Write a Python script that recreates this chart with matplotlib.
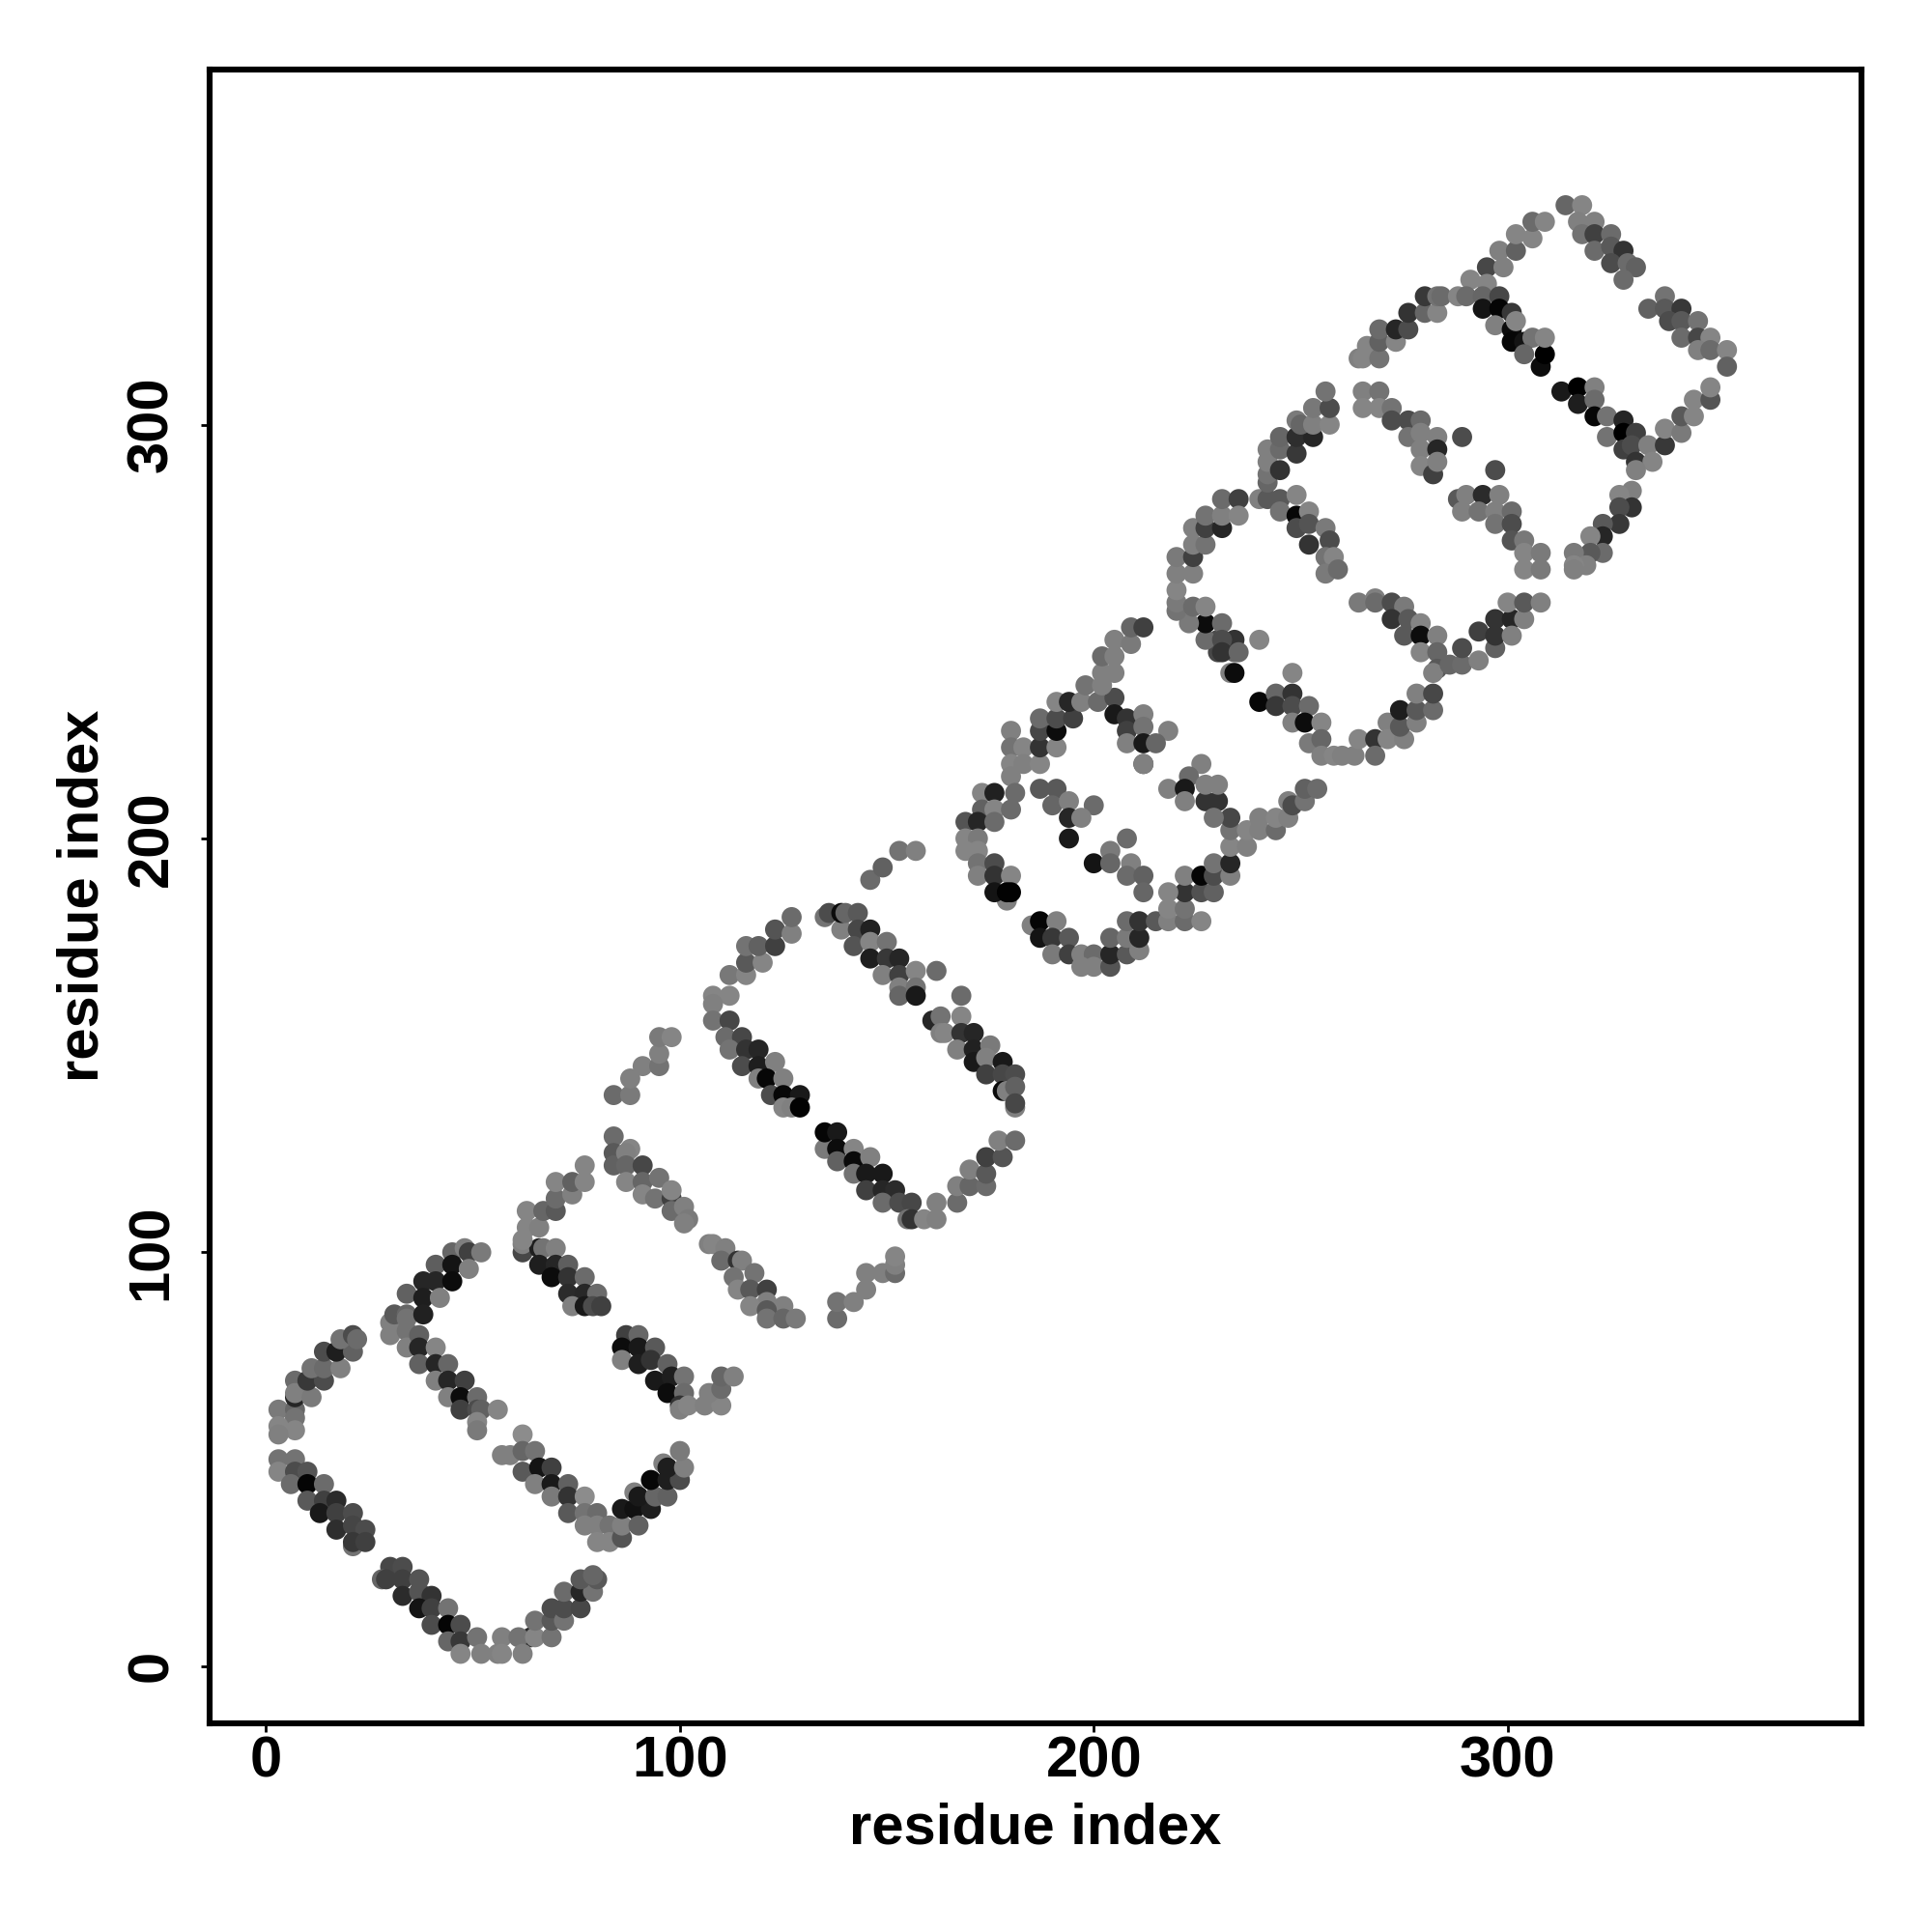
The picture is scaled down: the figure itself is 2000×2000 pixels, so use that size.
import matplotlib
matplotlib.use('Agg')
import matplotlib.pyplot as plt
import numpy as np

plt.rcParams['font.family'] = ['Liberation Sans', 'DejaVu Sans']
plt.rcParams['font.weight'] = 'bold'

# contacts: (residue i, residue j, grey level)
band_a = [(30,24,.28),(33,24,.30),(28,21,.40),(29,21,.25),(33,21,.25),(37,21,.33),(33,17,.17),(37,18,.33),
          (40,17,.2),(37,14,.08),(40,14,.25),(44,14,.45),(40,10,.3),(44,10,.02),(47,10,.3),(44,6,.4),
          (47,6,.22),(51,7,.45),(47,3,.52),(52,3,.5),(56,3,.5),(57,7,.5),(57,3,.52),(64,7,.15),(61,7,.45),
          (62,3,.5),(65,7,.52),(65,11,.45),(69,7,.45),(69,11,.35),(69,14,.3),(72,11,.45),(72,14,.3),
          (76,14,.28),(72,18,.42),(76,18,.15),(79,18,.45),(76,21,.35),(80,21,.35),(79,22,.4)]
band_b = [(3,50,.45),(3,47,.52),(7,50,.45),(7,47,.3),(6,44,.42),(10,47,.33),(10,44,.02),(14,44,.42),
          (10,40,.35),(14,40,.25),(17,40,.17),(13,37,.1),(17,37,.25),(21,37,.3),(17,33,.18),(21,34,.27),
          (24,33,.3),(21,29,.45),(21,30,.22),(24,30,.25),(3,62,.48),(7,62,.4),(7,60,.45),(3,58,.52),
          (7,57,.52),(3,56,.5)]
band_c = [(7,65,.15),(7,69,.42),(7,66,.5),(11,65,.48),(10,69,.22),(14,69,.3),(11,72,.45),(14,72,.42),
          (18,72,.5),(14,76,.3),(17,76,.12),(21,76,.38),(18,79,.45),(21,80,.3),(22,79,.42)]
band_d = [(30,80,.5),(30,83,.5),(31,85,.35),(34,90,.38),(34,85,.4),(34,84,.45),(38,93,.15),(38,89,.12),
          (38,85,.13),(41,97,.37),(41,93,.15),(42,89,.5),(45,100,.4),(45,97,.08),(45,93,.05),(48,101,.5),
          (49,100,.25),(49,96,.5),(52,100,.48)]
band_e = [(34,81,.45),(34,77,.5),(37,80,.38),(37,77,.15),(37,73,.38),(41,77,.52),(41,73,.15),(44,73,.4),
          (41,69,.5),(44,69,.15),(48,69,.25),(44,65,.5),(47,65,.05),(51,65,.42),(47,62,.25),(51,62,.3),
          (52,62,.38),(56,62,.52),(51,59,.52),(51,57,.48)]
band_f = [(62,56,.55),(57,51,.5),(59,51,.5),(62,52,.4),(62,47,.35),(65,52,.45),(66,48,.08),(69,48,.25),
          (65,44,.5),(69,44,.1),(73,44,.38),(69,41,.48),(73,41,.2),(77,41,.55),(73,37,.35),(77,37,.45),
          (80,37,.42),(77,34,.5),(80,34,.5),(83,34,.45),(80,30,.52),(83,30,.52),(86,31,.33),(86,34,.5)]
band_g = [(86,38,.1),(89,38,.07),(90,34,.38),(93,38,.12),(89,42,.5),(90,41,.1),(94,41,.4),(97,41,.38),
          (93,45,.03),(97,45,.12),(100,45,.3),(96,49,.5),(97,48,.12),(101,48,.5),(100,52,.48)]
band_h = [(62,100,.28),(62,102,.5),(66,101,.12),(67,101,.45),(70,101,.5),(66,97,.12),(70,97,.15),(73,97,.37),
          (69,94,.05),(73,94,.2),(77,94,.42),(73,90,.17),(77,90,.16),(80,90,.42),(74,87,.5),(77,87,.1),
          (79,87,.3),(81,87,.25),(63,110,.52),(63,106,.52),(66,106,.5),(62,103,.52),(67,110,.4),(70,110,.35),
          (70,113,.42),(70,117,.52),(74,114,.5),(74,117,.38),(77,117,.52),(77,121,.52)]
band_i = [(87,80,.25),(90,80,.4),(86,77,.05),(90,77,.1),(94,77,.35),(86,74,.5),(90,73,.12),(93,74,.2),
          (97,73,.38),(94,69,.1),(98,70,.12),(101,70,.45),(97,66,.05),(101,66,.42),(100,63,.2),(100,62,.5),
          (102,63,.52),(106,63,.5),(110,63,.52),(107,66,.5),(110,67,.42),(110,70,.4),(113,70,.5)]
band_k = [(84,128,.42),(84,124,.35),(84,121,.38),(88,125,.52),(87,124,.5),(87,121,.4),(87,117,.52),(91,121,.28),
          (91,117,.4),(91,114,.52),(95,118,.45),(94,113,.45),(98,113,.25),(98,115,.52),(98,110,.42),(101,111,.5),
          (102,108,.48),(101,107,.5)]
band_m = [(107,102,.5),(108,102,.52),(111,101,.5),(110,98,.42),(114,98,.2),(115,98,.5),(113,94,.45),(118,95,.45),
          (114,91,.52),(117,91,.35),(121,91,.25),(121,88,.5),(117,87,.52),(125,87,.5),(121,86,.35),(121,84,.45),
          (125,84,.4),(128,84,.48)]
band_n = [(138,84,.42),(138,88,.45),(142,88,.5),(145,91,.5),(145,95,.5),(149,95,.5),(152,95,.42),(152,97,.5),
          (152,99,.52)]
band_o = [(84,138,.42),(88,138,.48),(88,142,.5),(91,145,.5),(95,145,.45),(95,148,.5),(95,152,.48),(98,152,.52)]
band_p = [(108,162,.52),(112,162,.52),(108,160,.5),(108,156,.45),(112,156,.28),(111,152,.42),(115,152,.28),
          (112,149,.45),(116,149,.2),(119,149,.15),(115,145,.3),(119,145,.12),(123,146,.5),(119,142,.5),
          (121,142,.03),(125,142,.5),(122,138,.3),(125,138,.03),(129,138,.1),(125,135,.52),(127,135,.5),(129,135,.01)]
band_q = [(135,125,.48),(135,129,.02),(138,129,.1),(138,125,.05),(138,122,.38),(142,125,.52),(142,122,.04),
          (146,123,.5),(142,119,.45),(145,119,.1),(149,119,.1),(145,115,.25),(149,115,.15),(152,115,.17),
          (149,112,.42),(153,112,.3),(156,112,.28),(155,108,.45),(156,108,.2),(159,108,.52),(162,108,.5),
          (162,112,.5),(167,112,.42),(167,116,.5),(170,116,.4),(170,120,.5),(174,116,.42),(174,119,.35),
          (174,123,.25),(178,123,.33),(177,127,.5),(181,127,.42)]
band_t = [(112,167,.47),(116,167,.52),(116,170,.35),(120,170,.52),(116,174,.45),(119,174,.38),(123,174,.25),
          (123,178,.33),(127,177,.5),(127,181,.42),(146,190,.42),(149,193,.38),(153,197,.45),(157,197,.5)]
band_u = [(135,181,.45),(136,182,.3),(139,178,.5),(139,182,.05),(140,182,.4),(143,182,.35),(143,178,.28),
          (146,178,.13),(142,174,.33),(146,175,.52),(150,175,.45),(146,171,.12),(150,171,.22),(153,171,.15),
          (149,167,.5),(153,167,.25),(157,168,.52),(153,164,.5),(153,162,.4),(157,164,.45),(157,162,.1),(162,168,.42)]
band_v = [(168,162,.42),(161,156,.15),(163,157,.45),(163,153,.5),(168,157,.52),(164,153,.52),(168,153,.2),
          (171,153,.15),(167,149,.5),(171,149,.13),(175,150,.48),(171,146,.1),(174,147,.5),(174,143,.25),
          (178,146,.1),(178,143,.28),(181,143,.3),(178,139,.05),(179,139,.5),(181,140,.38),(181,135,.5),(181,136,.28)]
band_w = [(180,226,.5),(180,222,.45),(183,222,.52),(180,218,.52),(183,218,.5),(187,218,.52),(180,215,.5),
          (181,211,.42),(173,211,.52),(176,211,.13),(173,207,.38),(176,207,.52),(180,207,.42),(169,204,.33),
          (172,204,.15),(176,204,.42),(169,200,.52),(172,200,.48),(169,197,.52),(172,197,.52),(172,194,.45),
          (176,194,.3),(172,191,.5),(176,191,.2),(180,191,.52),(179,185,.5),(176,187,.08),(179,187,.01),(180,187,.01)]
band_x = [(187,222,.2),(191,222,.52),(187,226,.28),(191,226,.05),(187,229,.42),(191,229,.3),(195,229,.25),
          (191,233,.52),(194,233,.15),(197,233,.5),(201,233,.42),(205,234,.3),(198,237,.45),(202,237,.5),
          (202,240,.5),(205,240,.5),(202,244,.42),(205,244,.5),(205,248,.5),(209,247,.48),(209,251,.4),(212,251,.25)]
band_inner = [(187,212,.35),(191,212,.35),(190,208,.4),(194,209,.5),(200,208,.42),(194,205,.15),(197,205,.5),
              (194,200,.1),(208,200,.42),(204,197,.48),(200,194,.08),(204,194,.4),(209,194,.5),(208,191,.42),
              (212,191,.38),(212,187,.4),(205,230,.1),(208,229,.2),(212,230,.5),(208,226,.25),(212,227,.45),
              (218,226,.5),(208,223,.5),(212,223,.1),(215,223,.4),(212,218,.25),(212,218,.5)]
band_y = [(185,179,.5),(187,180,.02),(191,180,.5),(187,176,.08),(190,176,.22),(194,176,.35),(190,172,.48),
          (194,172,.25),(197,172,.5),(200,172,.42),(197,169,.5),(200,169,.5),(204,169,.33),(204,172,.15),
          (204,176,.4),(208,172,.35),(208,176,.48),(211,173,.5),(211,176,.15),(208,180,.42),(211,180,.2),
          (215,180,.35),(218,180,.5),(222,180,.42),(226,180,.52),(218,183,.52),(222,183,.45),(222,187,.2),
          (218,187,.52),(226,187,.32),(229,187,.38),(222,191,.5),(226,191,.02),(229,191,.3),(233,191,.5),
          (229,194,.45),(233,194,.15),(233,198,.52),(237,198,.5),(233,202,.45),(233,205,.28),(237,202,.52),
          (240,202,.5),(244,202,.42),(240,205,.5),(244,205,.52),(247,205,.5),(247,209,.5),(248,208,.3),
          (251,209,.45),(251,212,.38),(254,212,.42)]
band_z = [(226,218,.5),(223,215,.42),(218,212,.5),(222,212,.1),(222,209,.5),(227,209,.2),(230,209,.2),
          (227,213,.5),(230,213,.5),(229,205,.45)]
band_aa = [(240,233,.03),(244,235,.4),(248,235,.2),(244,232,.22),(248,232,.3),(252,232,.42),(248,228,.5),
           (251,228,.05),(255,228,.52),(252,223,.48),(255,224,.4),(255,220,.5),(258,220,.52),(260,220,.5),
           (263,220,.5),(264,224,.52),(268,224,.2),(268,220,.42),(271,228,.5),(271,224,.52),(275,224,.5),
           (274,227,.35),(274,231,.12),(278,228,.5),(278,231,.35),(278,235,.5),(282,231,.42),(282,235,.28)]
band_ab = [(240,248,.52),(248,240,.52),(233,240,.5),(234,240,.05),(234,245,.4),(230,245,.28),(234,248,.2),
           (230,248,.3),(227,248,.42),(227,252,.05),(223,252,.48),(231,252,.42),(231,248,.3),(231,245,.2),
           (235,245,.4),(220,255,.45),(220,257,.48),(220,260,.52),(220,264,.5),(224,264,.5),(220,268,.48),
           (224,268,.25),(224,256,.42),(227,256,.52)]
band_ac = [(224,275,.5),(224,271,.5),(227,271,.45),(227,275,.25),(231,275,.15),(227,278,.45),(231,278,.5),
           (231,282,.42),(235,282,.25),(235,278,.52)]
band_ad = [(240,282,.5),(242,282,.35),(245,282,.35),(249,283,.52),(242,286,.4),(242,288,.45),(242,291,.5),
           (242,294,.5),(245,289,.2),(245,294,.42),(245,297,.4),(249,293,.22),(249,297,.18),(253,297,.15),
           (249,301,.48),(250,300,.4),(253,300,.5),(257,300,.52),(253,304,.47),(257,304,.3),(256,308,.45)]
band_ae = [(245,279,.45),(249,278,.03),(252,279,.52),(249,275,.3),(252,276,.33),(256,275,.48),(252,271,.2),
           (257,272,.3),(256,268,.45),(258,268,.52),(256,264,.48),(259,265,.42)]
band_af = [(265,308,.5),(269,308,.45),(265,304,.52),(269,304,.52),(272,304,.45),(272,301,.3),(276,301,.3),
           (279,301,.42),(276,297,.45),(279,298,.5),(283,297,.5),(279,294,.5),(283,294,.15),(279,290,.52),
           (282,288,.25),(283,291,.5),(289,297,.3),(297,289,.3)]
band_ag = [(288,282,.35),(290,283,.5),(294,283,.17),(298,283,.5),(289,279,.5),(293,279,.45),(297,279,.5),
           (297,276,.45),(301,279,.42),(301,276,.3),(301,272,.33),(304,272,.47),(304,269,.52),(308,269,.48),
           (304,265,.52),(308,265,.48)]
band_ah = [(264,257,.48),(268,258,.5),(268,257,.42),(272,257,.3),(275,256,.48),(272,253,.2),(276,253,.35),
           (279,252,.52),(275,249,.35),(279,249,.05),(283,249,.5),(279,245,.52),(283,245,.4),(283,241,.35),
           (282,240,.5),(286,242,.4),(289,242,.42),(289,246,.3),(293,250,.25),(293,243,.5),(297,246,.38),
           (297,249,.2),(297,253,.2),(301,253,.15),(301,249,.5),(304,253,.5),(300,257,.52),(304,257,.35),(308,257,.5)]
band_ai = [(264,316,.5),(265,316,.52),(266,319,.52),(269,316,.45),(269,320,.38),(273,320,.52),(269,323,.42),
           (273,323,.15),(276,323,.3),(276,327,.2),(280,327,.4),(283,327,.52),(280,331,.22),(283,331,.45),(284,331,.42)]
band_aj = [(295,338,.28),(299,338,.5),(298,342,.5),(302,342,.38),(302,346,.52),(306,345,.52),(306,349,.42),(309,349,.52)]
band_ak = [(314,353,.4),(318,353,.52),(317,349,.5),(321,349,.5),(318,346,.45),(321,346,.25),(325,346,.42),
           (321,342,.42),(325,343,.35),(328,342,.2),(325,339,.3),(329,339,.42),(331,338,.38),(328,335,.42)]
band_al = [(334,328,.38),(338,331,.45),(338,328,.35),(342,328,.22),(339,325,.3),(342,325,.35),(346,325,.45),
           (342,321,.42),(346,321,.28),(349,321,.52),(346,318,.5),(349,318,.42),(353,318,.52),(353,314,.38)]
band_am = [(291,335,.52),(295,334,.52),(288,331,.52),(290,331,.42),(294,331,.4),(298,331,.28),(294,328,.08),
           (298,328,.02),(301,327,.22),(297,324,.5),(301,323,.05),(302,325,.52),(301,320,.03),(304,320,.08),
           (306,321,.45),(304,317,.4),(308,314,.05),(309,317,.0),(309,321,.52)]
band_an = [(313,308,.1),(317,309,.0),(321,309,.5),(317,305,.12),(321,306,.42),(321,302,.03),(324,302,.45),
           (328,301,.15),(324,297,.45),(328,298,.0),(331,298,.25),(328,294,.25),(330,295,.3),(334,295,.5),
           (331,291,.2),(335,291,.52),(331,289,.5)]
band_ao = [(338,295,.22),(338,299,.52),(342,298,.48),(342,302,.35),(345,302,.52),(345,306,.52),(349,306,.33),(349,309,.52)]
band_ap = [(330,284,.5),(327,283,.52),(330,280,.2),(327,280,.3),(327,276,.22),(323,276,.35),(323,273,.15),
           (320,273,.52),(323,269,.42),(320,269,.35),(316,269,.48),(319,266,.5),(316,266,.52),(316,265,.5)]

bands = [band_a, band_b, band_c, band_d, band_e, band_f, band_g, band_h, band_i, band_k, band_m, band_n,
         band_o, band_p, band_q, band_t, band_u, band_v, band_w, band_x, band_inner, band_y, band_z,
         band_aa, band_ab, band_ac, band_ad, band_ae, band_af, band_ag, band_ah, band_ai, band_aj,
         band_ak, band_al, band_am, band_an, band_ao, band_ap]

x_ticks = [0, 100, 200, 300]
y_ticks = [0, 100, 200, 300]

fig = plt.figure(figsize=(10, 10), dpi=200)
ax = fig.add_axes([216.7/2000, 1 - 1784/2000, (1927-216.7)/2000, (1784-71.5)/2000])

for band in bands:
    b = np.array(band)
    ax.scatter(b[:, 0], b[:, 1], c=b[:, 2], cmap='gray', vmin=0, vmax=1, s=56, linewidths=0)

ax.set_xlim(-13.7, 385.5)
ax.set_ylim(-13.8, 385.9)
ax.set_xticks(x_ticks)
ax.set_yticks(y_ticks)
ax.tick_params(length=3.4, width=1, labelsize=21.5)
ax.tick_params(axis='x', pad=1)
ax.tick_params(axis='y', pad=8)
for lab in ax.get_yticklabels():
    lab.set_rotation(90)
    lab.set_va('center')
for s in ax.spines.values():
    s.set_linewidth(2.2)
ax.set_xlabel('residue index', fontsize=21.5, fontweight='bold', labelpad=5)
ax.set_ylabel('residue index', fontsize=21.5, fontweight='bold', labelpad=6)

fig.savefig('out.png', dpi=200)
